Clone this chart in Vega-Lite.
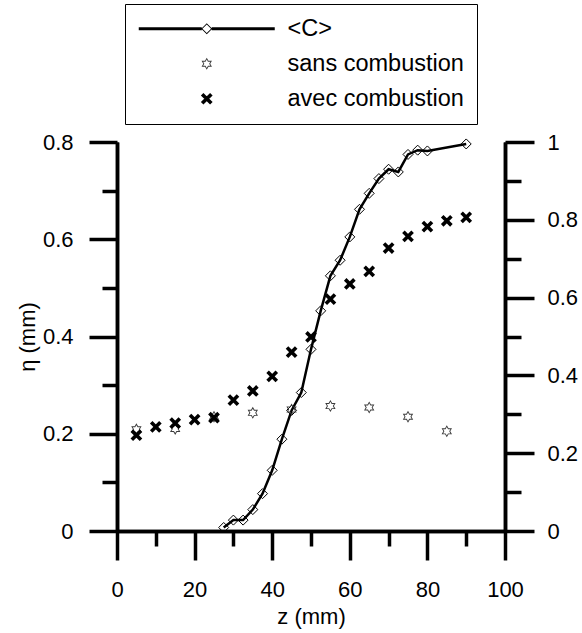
{
  "$schema": "https://vega.github.io/schema/vega-lite/v6.json",
  "autosize": "none",
  "width": 388,
  "height": 389,
  "padding": {"left": 117, "top": 142, "right": 77, "bottom": 102},
  "background": "white",
  "data": {
    "values": [
      {"series": "<C>", "z": 27.5, "v": 0.009},
      {"series": "<C>", "z": 30, "v": 0.028},
      {"series": "<C>", "z": 32.5, "v": 0.028},
      {"series": "<C>", "z": 35, "v": 0.055},
      {"series": "<C>", "z": 37.5, "v": 0.096},
      {"series": "<C>", "z": 40, "v": 0.156},
      {"series": "<C>", "z": 42.5, "v": 0.236},
      {"series": "<C>", "z": 45, "v": 0.31},
      {"series": "<C>", "z": 47.5, "v": 0.356},
      {"series": "<C>", "z": 50, "v": 0.467},
      {"series": "<C>", "z": 52.5, "v": 0.566},
      {"series": "<C>", "z": 55, "v": 0.656},
      {"series": "<C>", "z": 57.5, "v": 0.696},
      {"series": "<C>", "z": 60, "v": 0.756},
      {"series": "<C>", "z": 62.5, "v": 0.827},
      {"series": "<C>", "z": 65, "v": 0.868},
      {"series": "<C>", "z": 67.5, "v": 0.906},
      {"series": "<C>", "z": 70, "v": 0.93},
      {"series": "<C>", "z": 72.5, "v": 0.923},
      {"series": "<C>", "z": 75, "v": 0.968},
      {"series": "<C>", "z": 77.5, "v": 0.979},
      {"series": "<C>", "z": 80, "v": 0.977},
      {"series": "<C>", "z": 90, "v": 0.995},
      {"series": "sans combustion", "z": 5, "v": 0.209},
      {"series": "sans combustion", "z": 15, "v": 0.21},
      {"series": "sans combustion", "z": 25, "v": 0.235},
      {"series": "sans combustion", "z": 35, "v": 0.243},
      {"series": "sans combustion", "z": 45, "v": 0.25},
      {"series": "sans combustion", "z": 55, "v": 0.257},
      {"series": "sans combustion", "z": 65, "v": 0.254},
      {"series": "sans combustion", "z": 75, "v": 0.235},
      {"series": "sans combustion", "z": 85, "v": 0.205},
      {"series": "avec combustion", "z": 5, "v": 0.197},
      {"series": "avec combustion", "z": 10, "v": 0.214},
      {"series": "avec combustion", "z": 15, "v": 0.222},
      {"series": "avec combustion", "z": 20, "v": 0.229},
      {"series": "avec combustion", "z": 25, "v": 0.233},
      {"series": "avec combustion", "z": 30, "v": 0.269},
      {"series": "avec combustion", "z": 35, "v": 0.288},
      {"series": "avec combustion", "z": 40, "v": 0.318},
      {"series": "avec combustion", "z": 45, "v": 0.368},
      {"series": "avec combustion", "z": 50, "v": 0.399},
      {"series": "avec combustion", "z": 55, "v": 0.477},
      {"series": "avec combustion", "z": 60, "v": 0.508},
      {"series": "avec combustion", "z": 65, "v": 0.534},
      {"series": "avec combustion", "z": 70, "v": 0.582},
      {"series": "avec combustion", "z": 75, "v": 0.606},
      {"series": "avec combustion", "z": 80, "v": 0.626},
      {"series": "avec combustion", "z": 85, "v": 0.638},
      {"series": "avec combustion", "z": 90, "v": 0.645}
    ]
  },
  "layer": [
    {
      "transform": [{"filter": "datum.series === '<C>'"}],
      "mark": {"type": "line", "color": "black", "strokeWidth": 2.5},
      "encoding": {
        "x": {"field": "z", "type": "quantitative", "scale": {"domain": [0, 100], "nice": false},
              "axis": {"orient": "bottom", "values": [10, 30, 50, 70, 90], "tickSize": 15, "labels": false, "title": null, "domainWidth": 3.5, "tickWidth": 3.5}},
        "y": {"field": "v", "type": "quantitative", "scale": {"domain": [0, 1], "nice": false},
              "axis": {"orient": "right", "values": [0.1, 0.3, 0.5, 0.7, 0.9], "tickSize": 16, "labels": false, "title": null, "domainWidth": 3.5, "tickWidth": 3.5}}
      }
    },
    {
      "transform": [{"filter": "datum.series === '<C>'"}],
      "mark": {"type": "point", "shape": "diamond", "size": 100, "filled": false, "stroke": "black", "strokeWidth": 1, "opacity": 1},
      "encoding": {
        "x": {"field": "z", "type": "quantitative", "scale": {"domain": [0, 100], "nice": false},
              "axis": {"orient": "bottom", "values": [0, 20, 40, 60, 80, 100], "tickSize": 29, "labelPadding": 19, "labelAlign": "center", "labelBaseline": "top", "title": "z (mm)", "titlePadding": 6, "domainWidth": 3.5, "tickWidth": 3.5}},
        "y": {"field": "v", "type": "quantitative", "scale": {"domain": [0, 1], "nice": false},
              "axis": {"orient": "right", "values": [0, 0.2, 0.4, 0.6, 0.8, 1], "tickSize": 29, "labelPadding": 13, "labelAlign": "left", "labelBaseline": "middle", "title": null, "format": "~g", "domainWidth": 3.5, "tickWidth": 3.5}}
      }
    },
    {
      "transform": [{"filter": "datum.series === 'sans combustion'"}],
      "mark": {"type": "point", "filled": true, "size": 4, "strokeWidth": 0, "opacity": 1},
      "encoding": {
        "x": {"field": "z", "type": "quantitative", "scale": {"domain": [0, 100], "nice": false}, "axis": null},
        "y": {"field": "v", "type": "quantitative", "scale": {"domain": [0, 0.8], "nice": false},
              "axis": {"orient": "left", "values": [0, 0.2, 0.4, 0.6, 0.8], "tickSize": 28, "labelPadding": 16, "labelAlign": "right", "labelBaseline": "middle", "title": "η (mm)", "titlePadding": 3, "format": "~g", "domainWidth": 3.5, "tickWidth": 3.5}},
        "shape": {"field": "series", "type": "nominal",
                  "scale": {"domain": ["<C>", "sans combustion", "avec combustion"],
                            "range": [
                              "M-68,-1.5L-5,-1.5L-5,1.5L-68,1.5Z M5,-1.5L68,-1.5L68,1.5L5,1.5Z M0,-5.5L5.5,0L0,5.5L-5.5,0Z M0,-4.3L-4.3,0L0,4.3L4.3,0Z",
                              "M0,-6L1.732,-3L5.196,-3L3.464,0L5.196,3L1.732,3L0,6L-1.732,3L-5.196,3L-3.464,0L-5.196,-3L-1.732,-3Z M0,-4.2L-1.212,-2.1L-3.637,-2.1L-2.425,0L-3.637,2.1L-1.212,2.1L0,4.2L1.212,2.1L3.637,2.1L2.425,0L3.637,-2.1L1.212,-2.1Z",
                              "M-3.327,-5.873L5.873,3.327L3.327,5.873L-5.873,-3.327Z M5.873,-3.327L-3.327,5.873L-5.873,3.327L3.327,-5.873Z"
                            ]}},
        "color": {"field": "series", "type": "nominal",
                  "scale": {"domain": ["<C>", "sans combustion", "avec combustion"], "range": ["black", "#3a3a3a", "black"]}}
      }
    },
    {
      "transform": [{"filter": "datum.series === 'avec combustion'"}],
      "mark": {"type": "point", "filled": true, "size": 4, "strokeWidth": 0, "opacity": 1},
      "encoding": {
        "x": {"field": "z", "type": "quantitative", "scale": {"domain": [0, 100], "nice": false}, "axis": null},
        "y": {"field": "v", "type": "quantitative", "scale": {"domain": [0, 0.8], "nice": false},
              "axis": {"orient": "left", "values": [0.1, 0.3, 0.5, 0.7], "tickSize": 15, "labels": false, "title": null, "domainWidth": 3.5, "tickWidth": 3.5}},
        "shape": {"field": "series", "type": "nominal"},
        "color": {"field": "series", "type": "nominal"}
      }
    }
  ],
  "resolve": {"scale": {"x": "independent", "y": "independent"}},
  "config": {
    "view": {"stroke": null},
    "font": "Liberation Sans",
    "axis": {
      "grid": false,
      "domainColor": "black",
      "domainWidth": 3.5,
      "tickColor": "black",
      "tickWidth": 3.5,
      "labelFont": "Liberation Sans",
      "labelFontSize": 22,
      "labelColor": "black",
      "labelFlush": false,
      "labelOverlap": false,
      "titleFont": "Liberation Sans",
      "titleFontSize": 22,
      "titleFontWeight": "normal",
      "titleColor": "black"
    },
    "legend": {
      "orient": "none",
      "legendX": 8,
      "legendY": -138,
      "title": null,
      "labelFont": "Liberation Sans",
      "labelFontSize": 23.5,
      "labelColor": "black",
      "labelOffset": 69,
      "symbolOffset": 57,
      "labelLimit": 400,
      "rowPadding": 10,
      "padding": 13,
      "strokeColor": "black",
      "fillColor": "white",
      "symbolSize": 4,
      "symbolStrokeWidth": 0,
      "symbolOpacity": 1
    }
  }
}
